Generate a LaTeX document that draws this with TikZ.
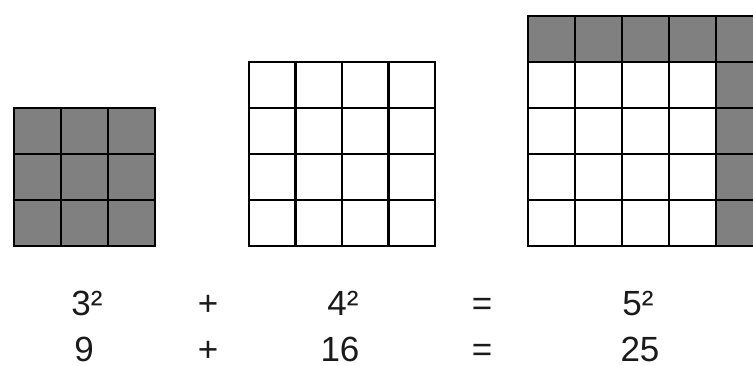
\documentclass[tikz,border=0pt]{standalone}
\usepackage{fontspec}
\setmainfont{Liberation Sans}
\usepackage{tikz}
\definecolor{sqgray}{HTML}{808080}
\definecolor{textgray}{HTML}{1a1a1a}

\begin{document}
\begin{tikzpicture}[x=1pt, y=-1pt,
    cellbox/.style={draw=black, line width=2.6pt},
    shaded/.style={fill=sqgray},
    term/.style={font=\fontsize{35}{42}\selectfont, text=textgray,
                 inner sep=0pt, text depth=0pt, anchor=base}
]
\useasboundingbox (0,0) rectangle (753,365);
\clip (0,0) rectangle (753,365);

% --- 3 x 3 square ---
\fill[shaded] (14,108) rectangle (155,246);
\foreach \i in {0,1,2}
  \foreach \j in {0,1,2}
    \draw[cellbox] (14+47*\i,246-46*\j) rectangle ++(47,-46);

% --- 4 x 4 square ---
\foreach \i in {0,...,3}
  \foreach \j in {0,...,3}
    \draw[cellbox] (249+46.5*\i,246-46*\j) rectangle ++(46.5,-46);

% --- 5 x 5 square ---
\fill[shaded] (528,16) rectangle (763,62);
\fill[shaded] (716,16) rectangle (763,246);
\foreach \i in {0,...,4}
  \foreach \j in {0,...,4}
    \draw[cellbox] (528+47*\i,246-46*\j) rectangle ++(47,-46);

% --- Equation rows ---
\node[term] (sq3) at (87,315) {3²};
\node[term] (plus1) at (208,315) {+};
\node[term] (sq4) at (343,315) {4²};
\node[term] (eq1) at (482,315) {=};
\node[term] (sq5) at (638,315) {5²};

\node[term] (n9) at (84,361) {9};
\node[term] (plus2) at (208,361) {+};
\node[term] (n16) at (340,361) {16};
\node[term] (eq2) at (482,361) {=};
\node[term] (n25) at (640,361) {25};
\end{tikzpicture}
\end{document}
